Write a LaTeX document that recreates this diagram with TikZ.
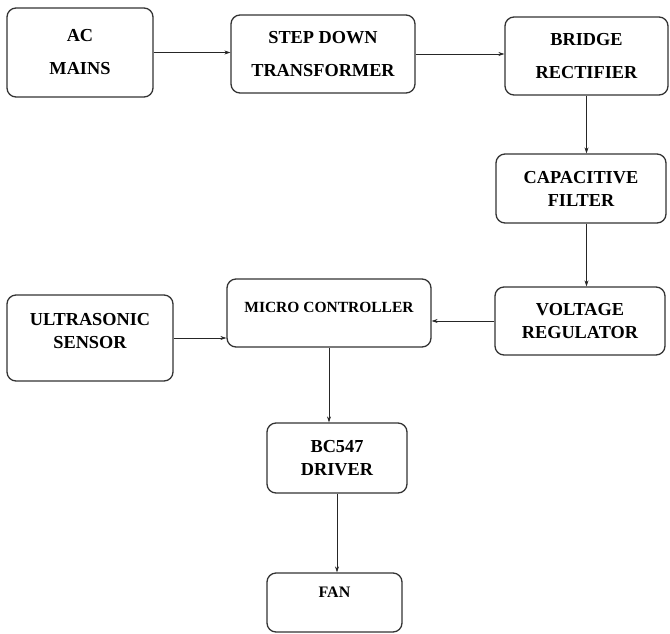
\documentclass[tikz,border=0pt]{standalone}
\usepackage{fontspec}
\setmainfont{Liberation Serif}
\usetikzlibrary{arrows.meta}

\tikzset{
	blk/.style={draw=black!80, line width=1.3pt, rounded corners=9pt, align=center, inner sep=0pt, font=\bfseries\fontsize{18.3}{23}\selectfont},
	wide/.style={font=\bfseries\fontsize{18.3}{33}\selectfont},
	sig/.style={-{Stealth[length=6pt,width=4pt]}, line width=0.6pt, draw=black!85}
}

\begin{document}
\begin{tikzpicture}[x=1pt, y=-1pt]
			%%%%% START %%%%%
			
			\useasboundingbox (0, 0) rectangle (670, 633);
			
			\node[blk, wide, minimum width=146pt, minimum height=89pt] (ac) at (80, 52.5) {AC\\MAINS};
			\node[blk, wide, minimum width=184pt, minimum height=78pt] (step) at (323, 54) {STEP DOWN\\TRANSFORMER};
			\node[blk, wide, minimum width=163pt, minimum height=78pt] (bridge) at (586.5, 56) {BRIDGE\\RECTIFIER};
			
			\node[blk, minimum width=170pt, minimum height=69pt] (cap) at (581, 188.5) {CAPACITIVE\\FILTER};
			\node[blk, minimum width=170pt, minimum height=68pt] (volt) at (580, 321) {VOLTAGE\\REGULATOR};
			
			\node[blk, font=\bfseries\fontsize{15.5}{18}\selectfont, text height=10pt, text depth=12pt, minimum width=204pt, minimum height=68pt] (micro) at (329, 313) {MICRO CONTROLLER};
			\node[blk, text height=30pt, text depth=10pt, minimum width=166pt, minimum height=86pt] (ultra) at (90, 338) {ULTRASONIC\\SENSOR};
			
			\node[blk, minimum width=140pt, minimum height=70pt] (bc) at (337, 458) {BC547\\DRIVER};
			\node[blk, font=\bfseries\fontsize{16}{19}\selectfont, text height=11pt, text depth=20.4pt, minimum width=135pt, minimum height=59pt] (fan) at (334.5, 602.5) {FAN};
			
			\draw[sig] (ac.east) -- (ac.east -| step.west);
			\draw[sig] (step.east) -- (step.east -| bridge.west);
			\draw[sig] (bridge.south) -- (bridge.south |- cap.north);
			\draw[sig] (bridge.south |- cap.south) -- (bridge.south |- volt.north);
			\draw[sig] (volt.west) -- (volt.west -| micro.east);
			\draw[sig] (ultra.east) -- (ultra.east -| micro.west);
			\draw[sig] (micro.south) -- (micro.south |- bc.north);
			\draw[sig] (bc.south) -- (bc.south |- fan.north);
			
			%%%%% END %%%%%
\end{tikzpicture}
\end{document}
